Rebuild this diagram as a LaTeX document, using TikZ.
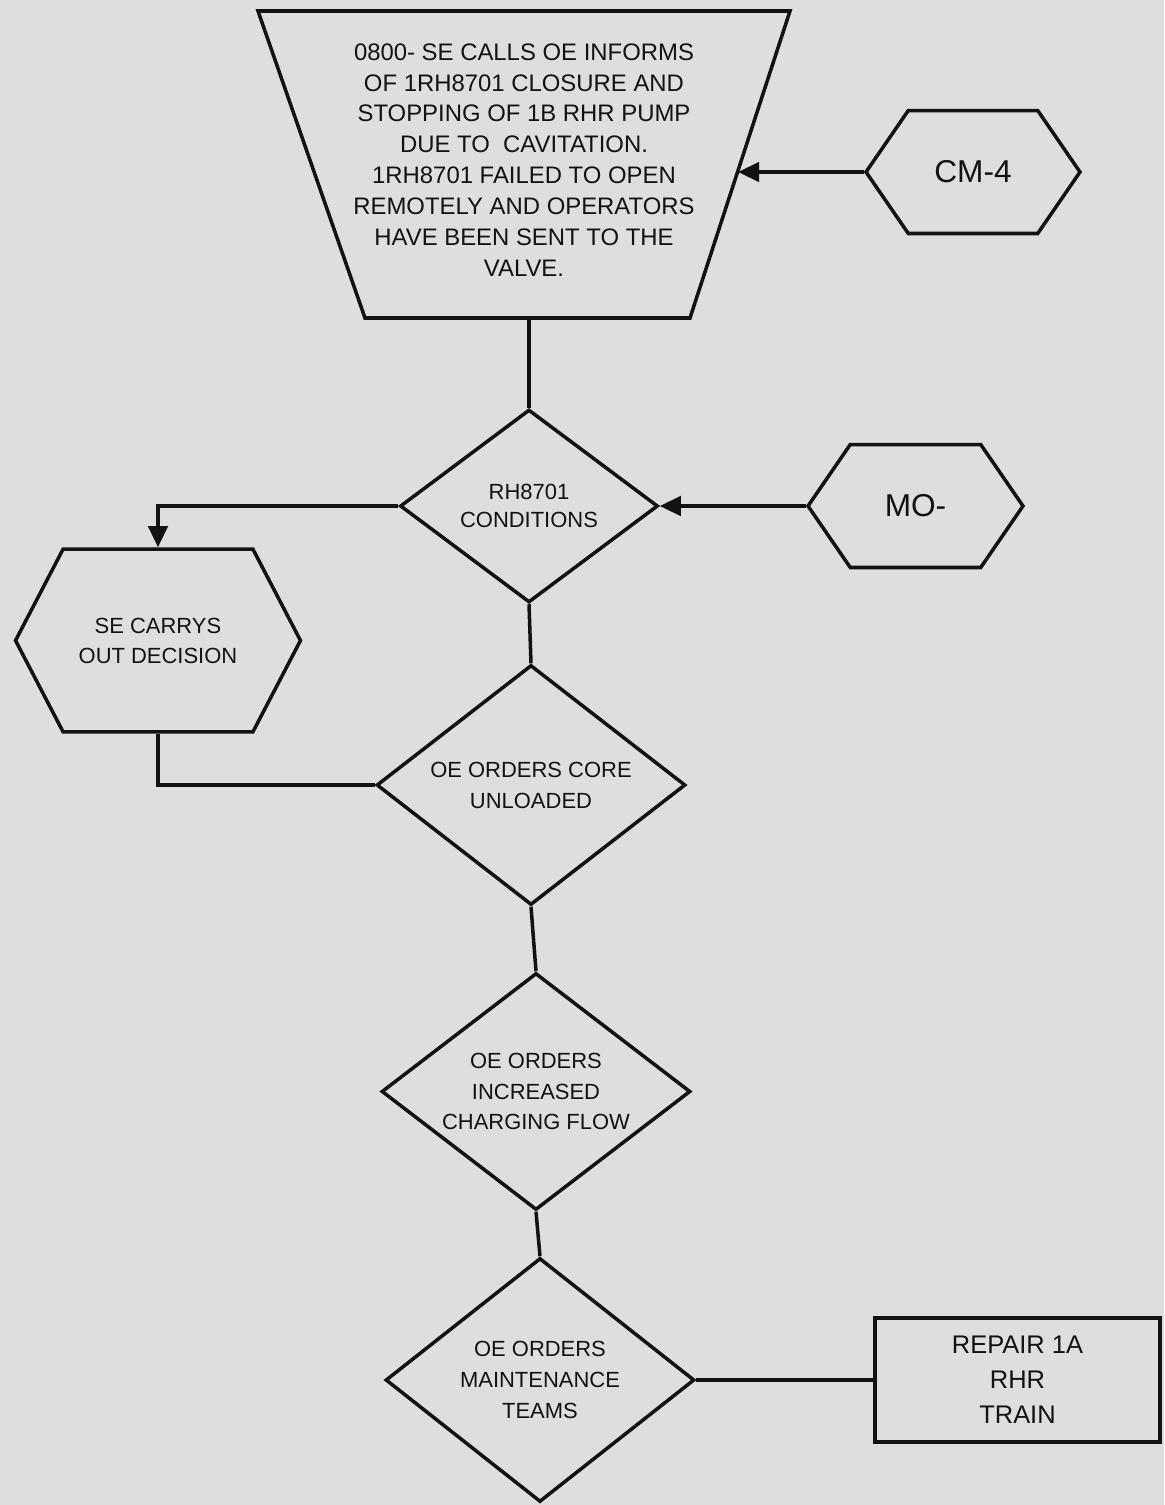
\documentclass[tikz,border=0pt]{standalone}
\usepackage{fontspec}
\setmainfont{Liberation Sans}
\usetikzlibrary{shapes.geometric,shapes.symbols,arrows.meta,calc}
\definecolor{paper}{RGB}{222,222,222}
\definecolor{ink}{RGB}{18,18,18}
\begin{document}
\begin{tikzpicture}[x=0.02cm,y=-0.02cm,
  line/.style={draw=ink,line width=2pt},
  arr/.style={line,-{Triangle[length=12pt,width=11pt]}},
  dia/.style={diamond,draw=ink,line width=2pt,inner sep=0pt,align=center,text=ink,
    font=\fontsize{12.5}{17.6}\selectfont},
  hex/.style={signal,signal to=east and west,draw=ink,line width=2pt,inner sep=0pt,
    align=center,text=ink},
  box/.style={rectangle,draw=ink,line width=2pt,inner sep=0pt,align=center,text=ink,
    font=\fontsize{14.5}{19.9}\selectfont},
  lbl/.style={align=center,text=ink,inner sep=0pt}]
\fill[paper] (0,0) rectangle (1164,1505);
\useasboundingbox (0,0) rectangle (1164,1505);
% trapezoid
\coordinate (trTL) at (258,11);
\coordinate (trTR) at (790,11);
\coordinate (trBR) at (690,318);
\coordinate (trBL) at (365,318);
\coordinate (trB) at (529,318);
\coordinate (trR) at (738,172);
\draw[line,line join=miter] (trTL) -- (trTR) -- (trBR) -- (trBL) -- cycle;
\node[lbl,font=\fontsize{13.6}{17.6}\selectfont] (trtext) at (524,160)
  {0800- SE CALLS OE INFORMS\\OF 1RH8701 CLOSURE AND\\STOPPING OF 1B RHR PUMP\\DUE TO\ \ CAVITATION.\\1RH8701 FAILED TO OPEN\\REMOTELY AND OPERATORS\\HAVE BEEN SENT TO THE\\VALVE.};
% hexagons
\node[hex,minimum width=4.28cm,minimum height=2.46cm,signal pointer angle=111,
  font=\fontsize{18}{20}\selectfont] (cm4) at (973,172) {CM-4};
\node[hex,minimum width=4.3cm,minimum height=2.46cm,signal pointer angle=111,
  font=\fontsize{18}{20}\selectfont] (mo) at (915.5,506) {MO-};
\node[hex,minimum width=5.7cm,minimum height=3.66cm,signal pointer angle=125,
  font=\fontsize{12.5}{17}\selectfont] (se) at (158,640.5) {SE CARRYS\\OUT DECISION};
% diamonds
\node[dia,aspect=1.34,minimum width=5.16cm,minimum height=3.86cm,
  font=\fontsize{12.5}{16}\selectfont] (d1) at (529,506) {RH8701\\CONDITIONS};
\node[dia,aspect=1.29,minimum width=6.18cm,minimum height=4.8cm] (d2) at (531,785)
  {OE ORDERS CORE\\UNLOADED};
\node[dia,aspect=1.3,minimum width=6.18cm,minimum height=4.74cm] (d3) at (536,1091.5)
  {OE ORDERS\\INCREASED\\CHARGING FLOW};
\node[dia,aspect=1.27,minimum width=6.18cm,minimum height=4.88cm] (d4) at (540,1380)
  {OE ORDERS\\MAINTENANCE\\TEAMS};
% box
\node[box,minimum width=5.7cm,minimum height=2.48cm] (rep) at (1017.5,1380)
  {REPAIR 1A\\RHR\\TRAIN};
% connectors
\draw[line] (trB) -- (d1.north);
\draw[arr] (cm4.west) -- (trR);
\draw[arr] (mo.west) -- (d1.east);
\draw[arr] (d1.west) -| (se.north);
\draw[line] (se.south) |- (d2.west);
\draw[line] (d1.south) -- (d2.north);
\draw[line] (d2.south) -- (d3.north);
\draw[line] (d3.south) -- (d4.north);
\draw[line] (d4.east) -- (rep.west);
\end{tikzpicture}
\end{document}
